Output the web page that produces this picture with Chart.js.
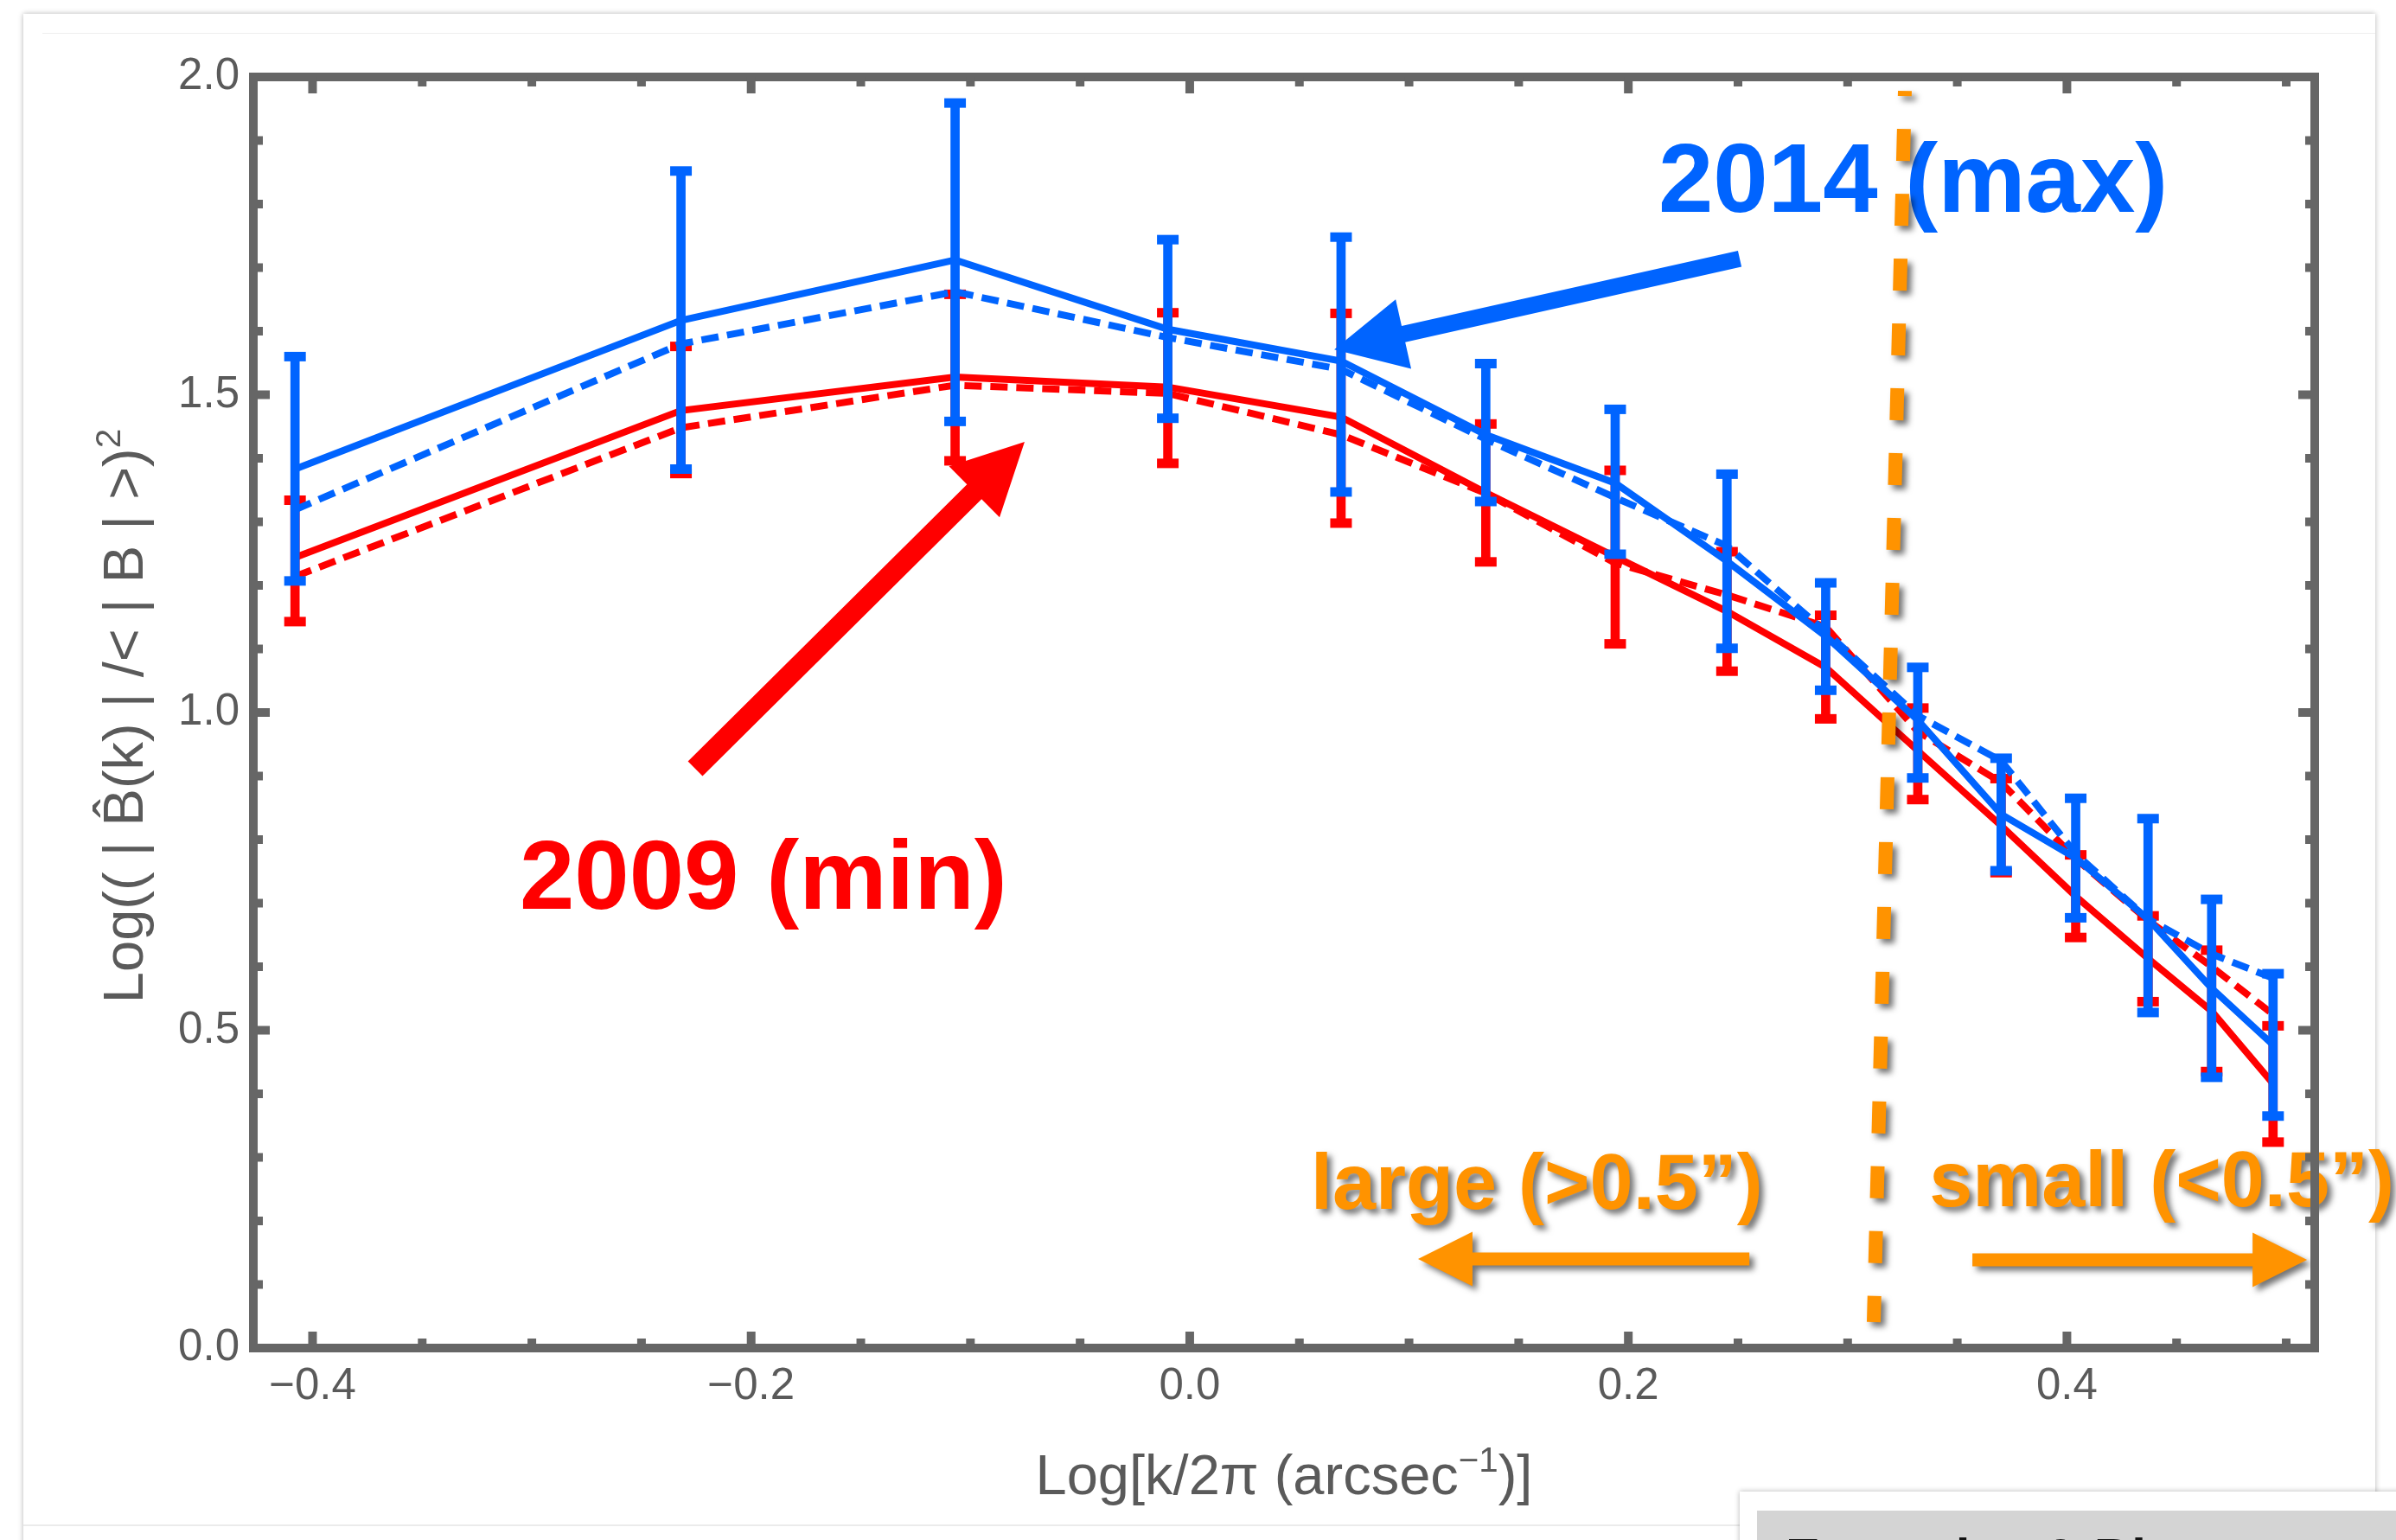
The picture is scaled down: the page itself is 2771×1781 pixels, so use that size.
<!DOCTYPE html>
<html>
<head>
<meta charset="utf-8">
<script src="https://cdn.jsdelivr.net/npm/chart.js@4.4.1/dist/chart.umd.min.js"></script>
<style>
  html, body { margin: 0; padding: 0; background: #fff; width: 2771px; height: 1781px; overflow: hidden; }
  .card { position: absolute; left: 27px; top: 16px; width: 2720px; height: 1900px; background: #fff; box-shadow: 0 0 6px rgba(0,0,0,0.30); }
  .topline { position: absolute; left: 49px; top: 38px; width: 2698px; height: 1px; background: #eeeeee; }
  .botline { position: absolute; left: 27px; top: 1763px; width: 1985px; height: 2px; background: #ebebeb; }
  .box { position: absolute; left: 2012px; top: 1725px; width: 800px; height: 200px; background: #fff; box-shadow: 0 0 6px rgba(0,0,0,0.30); }
  .band { position: absolute; left: 20px; top: 22px; width: 780px; height: 150px; background: #d4d4d4;
          font: bold 60px 'Liberation Sans', Arial, sans-serif; line-height: 60px; color: #111;
          padding: 24px 0 0 33px; box-sizing: border-box; white-space: nowrap; }
  #chart { position: absolute; left: 0; top: 0; }
</style>
</head>
<body>
<div class="card"></div>
<div class="topline"></div>
<div class="botline"></div>
<div class="box"><div class="band">Examples &amp; Bl</div></div>
<canvas id="chart" width="2771" height="1781"></canvas>
<script>
// x = Log[k/2π], y = Log((|B(k)|/<|B|>)^2)
const kValues = [-0.408, -0.232, -0.107, -0.010, 0.069, 0.135, 0.194, 0.245, 0.290, 0.332, 0.370, 0.404, 0.437, 0.466, 0.494];

// 2014 (max), blue
const max2014       = [1.383, 1.617, 1.712, 1.603, 1.553, 1.437, 1.361, 1.238, 1.120, 0.988, 0.840, 0.771, 0.675, 0.566, 0.477];
const max2014Dashed = [1.319, 1.580, 1.662, 1.590, 1.540, 1.430, 1.338, 1.262, 1.127, 0.995, 0.924, 0.778, 0.675, 0.620, 0.582];
const max2014Low    = [1.207, 1.383, 1.458, 1.463, 1.347, 1.332, 1.249, 1.101, 1.035, 0.897, 0.751, 0.677, 0.528, 0.426, 0.365];
const max2014High   = [1.560, 1.852, 1.959, 1.744, 1.748, 1.549, 1.477, 1.375, 1.204, 1.071, 0.928, 0.865, 0.833, 0.706, 0.589];

// 2009 (min), red
const min2009       = [1.244, 1.475, 1.528, 1.512, 1.465, 1.346, 1.245, 1.159, 1.071, 0.940, 0.822, 0.711, 0.613, 0.530, 0.416];
const min2009Dashed = [1.214, 1.448, 1.515, 1.502, 1.437, 1.345, 1.235, 1.185, 1.135, 0.970, 0.890, 0.770, 0.673, 0.600, 0.525];
const min2009Low    = [1.143, 1.376, 1.396, 1.392, 1.298, 1.237, 1.108, 1.065, 0.990, 0.863, 0.748, 0.646, 0.545, 0.435, 0.324];
const min2009High   = [1.334, 1.576, 1.658, 1.629, 1.628, 1.454, 1.381, 1.253, 1.153, 1.007, 0.896, 0.776, 0.680, 0.626, 0.507];

const xTickValues = [-0.4, -0.2, 0, 0.2, 0.4];
const xTickLabels = ['\u22120.4', '\u22120.2', '0.0', '0.2', '0.4'];
const yTickValues = [0, 0.5, 1, 1.5, 2];
const yTickLabels = ['0.0', '0.5', '1.0', '1.5', '2.0'];

const BLUE = '#0064ff', RED = '#ff0000', ORANGE = '#ff9300', FRAME = '#666666', INK = '#5a5a5a';
const FONT = "'Liberation Sans', Arial, Helvetica, sans-serif";

// annotations (in data units)
const noteArrows = [
  { from: [0.2508, 1.714], to: [0.0659, 1.571], color: BLUE, shaft: 19, head: 82, width: 82 },
  { from: [-0.2255, 0.9116], to: [-0.0753, 1.4259], color: RED, shaft: 24, head: 82, width: 83 }
];
const noteTexts = [
  { text: '2014 (max)', at: [0.2137, 1.7878], color: BLUE, size: 114 },
  { text: '2009 (min)', at: [-0.3056, 0.6912], color: RED, size: 114 }
];
const scaleTexts = [
  { text: 'large (>0.5\u201d)', at: [0.0552, 0.219] },
  { text: 'small (<0.5\u201d)', at: [0.3372, 0.2231] }
];
const scaleArrows = [
  { from: [0.2552, 0.1401], to: [0.1041, 0.1401] },
  { from: [0.3569, 0.1388], to: [0.5095, 0.1388] }
];
const divider = { from: [0.3261, 1.978], to: [0.3119, 0.0408] };

const pts = (ys) => kValues.map((x, i) => ({ x: x, y: ys[i] }));
const bars = (lo, hi) => kValues.map((x, i) => ({ x: x, y: [lo[i], hi[i]] }));
const caps = (lo, hi) => kValues.flatMap((x, i) => [{ x: x, y: hi[i] }, { x: x, y: lo[i] }]);

function lineSet(label, ys, color, dashed, order) {
  return {
    type: 'line', label: label, data: pts(ys), borderColor: color, borderWidth: 8,
    borderDash: dashed ? [20, 10] : [], pointRadius: 0, tension: 0, fill: false, order: order
  };
}
function barSet(label, lo, hi, color, order) {
  return {
    type: 'bar', label: label, data: bars(lo, hi), backgroundColor: color, borderWidth: 0,
    barThickness: 10, grouped: false, order: order
  };
}
function capSet(label, lo, hi, color, order) {
  return {
    type: 'line', label: label, data: caps(lo, hi), showLine: false, pointStyle: 'line',
    pointRadius: 12.5, pointBorderWidth: 11, borderColor: color, order: order
  };
}

function arrow(ctx, x0, y0, x1, y1, shaft, headLen, headW) {
  const len = Math.hypot(x1 - x0, y1 - y0);
  ctx.save();
  ctx.translate(x0, y0);
  ctx.rotate(Math.atan2(y1 - y0, x1 - x0));
  ctx.beginPath();
  ctx.moveTo(0, -shaft / 2);
  ctx.lineTo(len - headLen, -shaft / 2);
  ctx.lineTo(len - headLen, -headW / 2);
  ctx.lineTo(len, 0);
  ctx.lineTo(len - headLen, headW / 2);
  ctx.lineTo(len - headLen, shaft / 2);
  ctx.lineTo(0, shaft / 2);
  ctx.closePath();
  ctx.fill();
  ctx.restore();
}

// text with superscripts, centred on the origin, baseline at 0
function richText(ctx, parts, size) {
  const w = parts.map(p => {
    ctx.font = (p.sup ? size * 0.62 : size) + 'px ' + FONT;
    return ctx.measureText(p.t).width;
  });
  let cx = -w.reduce((a, b) => a + b, 0) / 2;
  parts.forEach((p, i) => {
    ctx.font = (p.sup ? size * 0.62 : size) + 'px ' + FONT;
    ctx.fillText(p.t, cx, p.sup ? -size * 0.4 : 0);
    cx += w[i];
  });
}

function shadowOn(ctx) {
  ctx.shadowColor = 'rgba(0,0,0,0.55)';
  ctx.shadowBlur = 7;
  ctx.shadowOffsetX = 5;
  ctx.shadowOffsetY = 5;
}

const overlay = {
  id: 'overlay',
  afterDatasetsDraw(chart) {
    const { ctx, scales: { x, y } } = chart;
    const P = (v) => [x.getPixelForValue(v[0]), y.getPixelForValue(v[1])];

    ctx.save();
    ctx.textAlign = 'left';
    ctx.textBaseline = 'alphabetic';

    // blue / red labels and arrows
    noteTexts.forEach(n => {
      const [px, py] = P(n.at);
      ctx.fillStyle = n.color;
      ctx.font = 'bold ' + n.size + 'px ' + FONT;
      ctx.fillText(n.text, px, py);
    });
    noteArrows.forEach(a => {
      const [x0, y0] = P(a.from), [x1, y1] = P(a.to);
      ctx.fillStyle = a.color;
      arrow(ctx, x0, y0, x1, y1, a.shaft, a.head, a.width);
    });

    // orange divider and scale labels, with drop shadow
    ctx.save();
    shadowOn(ctx);
    const [dx0, dy0] = P(divider.from), [dx1, dy1] = P(divider.to);
    ctx.strokeStyle = ORANGE;
    ctx.lineWidth = 16;
    ctx.setLineDash([37, 38]);
    ctx.lineDashOffset = 31;
    ctx.beginPath();
    ctx.moveTo(dx0, dy0);
    ctx.lineTo(dx1, dy1);
    ctx.stroke();
    ctx.setLineDash([]);

    ctx.fillStyle = ORANGE;
    ctx.font = 'bold 90px ' + FONT;
    scaleTexts.forEach(t => {
      const [px, py] = P(t.at);
      ctx.fillText(t.text, px, py);
    });
    scaleArrows.forEach(a => {
      const [x0, y0] = P(a.from), [x1, y1] = P(a.to);
      arrow(ctx, x0, y0, x1, y1, 15, 63, 63);
    });
    ctx.restore();

    ctx.restore();
  },
  afterDraw(chart) {
    const { ctx, chartArea: a, scales: { x, y } } = chart;
    ctx.save();
    ctx.strokeStyle = FRAME;
    ctx.lineWidth = 10;
    ctx.strokeRect(a.left, a.top, a.right - a.left, a.bottom - a.top);

    // inward ticks on all four sides
    const tick = (x0, y0, x1, y1) => { ctx.beginPath(); ctx.moveTo(x0, y0); ctx.lineTo(x1, y1); ctx.stroke(); };
    for (let v = -0.4; v <= x.max + 1e-9; v += 0.05) {
      const px = x.getPixelForValue(v);
      const major = Math.abs(v / 0.2 - Math.round(v / 0.2)) < 1e-6;
      const len = major ? 19 : 11;
      tick(px, a.bottom, px, a.bottom - len);
      tick(px, a.top, px, a.top + len);
    }
    for (let v = 0.1; v < y.max - 1e-9; v += 0.1) {
      const py = y.getPixelForValue(v);
      const major = Math.abs(v / 0.5 - Math.round(v / 0.5)) < 1e-6;
      const len = major ? 19 : 11;
      tick(a.left, py, a.left + len, py);
      tick(a.right, py, a.right - len, py);
    }

    // axis titles
    ctx.fillStyle = INK;
    ctx.textAlign = 'left';
    ctx.textBaseline = 'alphabetic';
    ctx.save();
    ctx.translate((a.left + a.right) / 2, a.bottom + 169);
    richText(ctx, [{ t: 'Log[k/2\u03c0 (arcsec' }, { t: '\u22121', sup: true }, { t: ')]' }], 65);
    ctx.restore();
    ctx.save();
    ctx.translate(a.left - 128, (a.top + a.bottom) / 2 + 4);
    ctx.rotate(-Math.PI / 2);
    richText(ctx, [{ t: 'Log(( | B\u0302(k) | /< | B | >)' }, { t: '2', sup: true }], 65);
    ctx.restore();
    ctx.restore();
  }
};

new Chart(document.getElementById('chart'), {
  type: 'line',
  data: {
    datasets: [
      capSet('2014 error', max2014Low, max2014High, BLUE, 0),
      barSet('2014 error', max2014Low, max2014High, BLUE, 1),
      lineSet('2014 (max)', max2014, BLUE, false, 2),
      lineSet('2014 (max) dashed', max2014Dashed, BLUE, true, 3),
      capSet('2009 error', min2009Low, min2009High, RED, 4),
      barSet('2009 error', min2009Low, min2009High, RED, 5),
      lineSet('2009 (min)', min2009, RED, false, 6),
      lineSet('2009 (min) dashed', min2009Dashed, RED, true, 7)
    ]
  },
  options: {
    responsive: false,
    devicePixelRatio: 1,
    animation: false,
    events: [],
    layout: { padding: { left: 0, top: 89, right: 94, bottom: 0 } },
    plugins: { legend: { display: false }, tooltip: { enabled: false } },
    scales: {
      x: {
        type: 'linear', min: -0.427, max: 0.513, offset: false,
        grid: { display: false, drawTicks: false },
        border: { display: false },
        afterBuildTicks: (s) => { s.ticks = xTickValues.map(v => ({ value: v })); },
        afterFit: (s) => { s.height = 222; },
        ticks: {
          autoSkip: false, maxRotation: 0, padding: 14, color: INK,
          font: { family: FONT, size: 51 },
          callback: (v, i) => xTickLabels[i]
        }
      },
      y: {
        type: 'linear', min: 0, max: 2,
        grid: { display: false, drawTicks: false },
        border: { display: false },
        afterBuildTicks: (s) => { s.ticks = yTickValues.map(v => ({ value: v })); },
        afterFit: (s) => { s.width = 293; },
        ticks: {
          autoSkip: false, padding: 16, color: INK,
          font: { family: FONT, size: 51 },
          callback: (v, i) => yTickLabels[i]
        }
      }
    }
  },
  plugins: [overlay]
});
</script>
</body>
</html>
